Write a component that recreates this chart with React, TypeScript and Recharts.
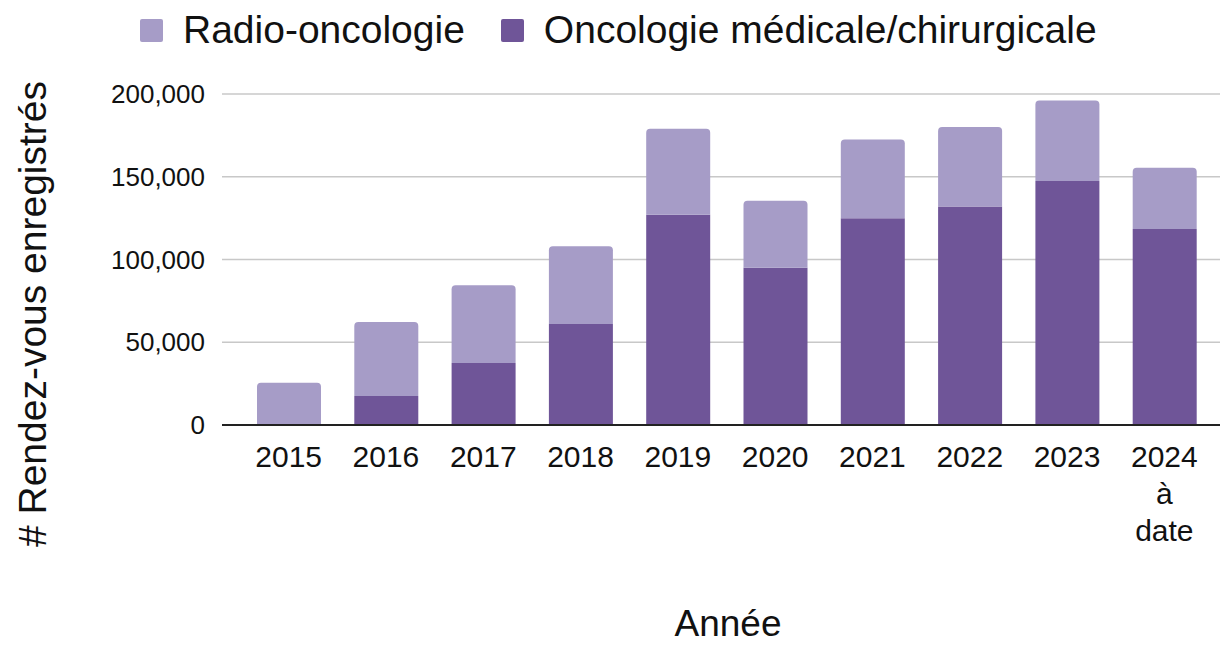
import { BarChart, Bar, XAxis, YAxis, CartesianGrid, Legend, Label } from "recharts";

const years = ["2015", "2016", "2017", "2018", "2019", "2020", "2021", "2022", "2023", "2024\nà\ndate"];
const medicalValues = [0, 17500, 37500, 61000, 127000, 95000, 125000, 132000, 147500, 118500];
const radioValues = [25500, 44700, 47000, 47000, 52000, 40500, 47500, 48000, 48500, 37000];
const yTicks = [0, 50000, 100000, 150000, 200000];

const LIGHT = "#a69cc7";
const DARK = "#6f5598";
const FONT = "'Liberation Sans', Arial, sans-serif";

const data = years.map((year, i) => ({
  year,
  medical: medicalValues[i],
  radio: radioValues[i],
}));

// legend shows radio first even though it's stacked on top
const legendItems = [
  { label: "Radio-oncologie", color: LIGHT },
  { label: "Oncologie médicale/chirurgicale", color: DARK },
];

function TopLegend() {
  return (
    <div style={{ height: 60, display: "flex", alignItems: "center", paddingLeft: 140, fontFamily: FONT }}>
      {legendItems.map((item) => (
        <div key={item.label} style={{ display: "flex", alignItems: "center", marginRight: 36 }}>
          <span
            style={{ width: 23, height: 23, background: item.color, borderRadius: 2, display: "inline-block", marginRight: 20 }}
          />
          <span style={{ fontSize: 39, color: "#111" }}>{item.label}</span>
        </div>
      ))}
    </div>
  );
}

function YearTick({ x, y, payload }: any) {
  const lines = String(payload.value).split("\n");
  return (
    <text x={x} y={y} textAnchor="middle" fill="#111" fontSize={30} fontFamily={FONT}>
      {lines.map((line, i) => (
        <tspan key={i} x={x} dy={i === 0 ? 34 : 37}>
          {line}
        </tspan>
      ))}
    </text>
  );
}

export default function App() {
  return (
    <div style={{ position: "absolute", left: 0, top: 0, width: 1220, height: 645, background: "#fff" }}>
      <BarChart width={1220} height={645} data={data} margin={{ top: 34, right: 0, bottom: 0, left: 0 }}>
        <Legend verticalAlign="top" content={() => <TopLegend />} wrapperStyle={{ top: 0, left: 0 }} />
        <CartesianGrid vertical={false} stroke="#c8c8c8" strokeWidth={1.5} />
        <XAxis
          dataKey="year"
          height={220}
          interval={0}
          tick={<YearTick />}
          tickLine={false}
          axisLine={{ stroke: "#222", strokeWidth: 2 }}
          padding={{ left: 18, right: 7 }}
        >
          <Label
            content={() => (
              <text x={728} y={636} textAnchor="middle" fontSize={37} fill="#111" fontFamily={FONT}>
                Année
              </text>
            )}
          />
        </XAxis>
        <YAxis
          width={222}
          domain={[0, 200000]}
          ticks={yTicks}
          tickFormatter={(v: number) => v.toLocaleString("en-US")}
          tick={{ fontSize: 26, fill: "#111", fontFamily: FONT }}
          tickLine={false}
          tickSize={0}
          tickMargin={17}
          axisLine={false}
        >
          <Label
            content={() => (
              <text
                x={46}
                y={314}
                transform="rotate(-90 46 314)"
                textAnchor="middle"
                fontSize={39}
                fill="#111"
                fontFamily={FONT}
              >
                # Rendez-vous enregistrés
              </text>
            )}
          />
        </YAxis>
        <Bar dataKey="medical" stackId="a" fill={DARK} barSize={64} isAnimationActive={false} />
        <Bar dataKey="radio" stackId="a" fill={LIGHT} barSize={64} radius={[4, 4, 0, 0]} isAnimationActive={false} />
      </BarChart>
    </div>
  );
}
